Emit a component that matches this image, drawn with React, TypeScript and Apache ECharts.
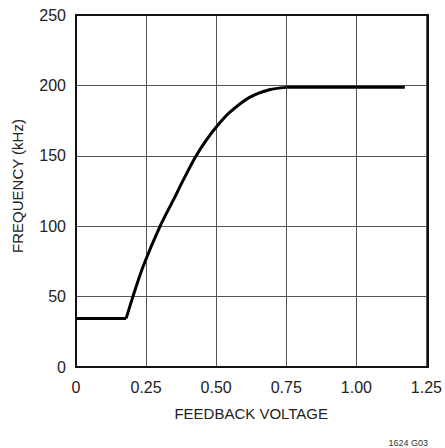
import React, { useEffect, useRef } from "react";
import * as echarts from "echarts";

const lowVoltage = [0, 0.179];
const lowFrequency = [34.5, 34.5];
const rampVoltage = [0.179, 0.203, 0.24, 0.3, 0.347, 0.382, 0.424, 0.466, 0.507, 0.548, 0.619, 0.69, 0.75];
const rampFrequency = [34.5, 50, 71.7, 100, 118.5, 132.5, 148.5, 161.5, 172, 180.8, 191.5, 196.9, 198.6];
const highVoltage = [0.75, 1.173];
const highFrequency = [198.6, 198.6];
const xTicks = ["0", "0.25", "0.50", "0.75", "1.00", "1.25"];

const FONT = "'Liberation Sans', Arial, sans-serif";

const pairs = (xs: number[], ys: number[]) => xs.map((x, i) => [x, ys[i]]);

export default function App() {
  const ref = useRef<HTMLDivElement>(null);
  useEffect(() => {
    const chart = echarts.init(ref.current!, null, { renderer: "svg" });
    const line = { color: "#000", width: 3 };
    chart.setOption({
      animation: false,
      backgroundColor: "#fff",
      grid: { left: 76, right: 17, top: 15, bottom: 81 },
      xAxis: {
        type: "value",
        min: 0,
        max: 1.25,
        interval: 0.25,
        name: "FEEDBACK VOLTAGE",
        nameLocation: "middle",
        nameGap: 39,
        nameTextStyle: { fontFamily: FONT, fontSize: 15, color: "#222" },
        axisLine: { lineStyle: { color: "#111", width: 2 } },
        axisTick: { show: false },
        axisLabel: {
          fontFamily: FONT,
          fontSize: 16,
          color: "#222",
          margin: 12,
          formatter: (v: number) => xTicks[Math.round(v / 0.25)] ?? "",
        },
        splitLine: { show: true, lineStyle: { color: "#555", width: 1 } },
      },
      yAxis: {
        type: "value",
        min: 0,
        max: 250,
        interval: 50,
        axisLine: { show: true, lineStyle: { color: "#111", width: 2 } },
        axisTick: { show: false },
        axisLabel: { fontFamily: FONT, fontSize: 16, color: "#222", margin: 10 },
        splitLine: { show: true, lineStyle: { color: "#555", width: 1 } },
      },
      graphic: [
        {
          type: "rect",
          shape: { x: 76, y: 15, width: 352, height: 352 },
          style: { fill: "none", stroke: "#111", lineWidth: 2 },
          z: 1,
        },
        {
          type: "text",
          x: 17,
          y: 186,
          rotation: Math.PI / 2,
          style: {
            text: "FREQUENCY (kHz)",
            fontFamily: FONT,
            fontSize: 15,
            fill: "#222",
            align: "center",
            verticalAlign: "middle",
          },
        },
        {
          type: "text",
          right: 17,
          top: 438,
          style: { text: "1624 G03", fontFamily: FONT, fontSize: 9, fill: "#333" },
        },
      ],
      series: [
        { type: "line", data: pairs(lowVoltage, lowFrequency), showSymbol: false, lineStyle: line, z: 5 },
        { type: "line", data: pairs(rampVoltage, rampFrequency), showSymbol: false, smooth: 0.3, lineStyle: line, z: 5 },
        { type: "line", data: pairs(highVoltage, highFrequency), showSymbol: false, lineStyle: line, z: 5 },
      ],
    });
    return () => chart.dispose();
  }, []);
  return <div ref={ref} style={{ position: "fixed", left: 0, top: 0, width: 445, height: 448 }} />;
}
